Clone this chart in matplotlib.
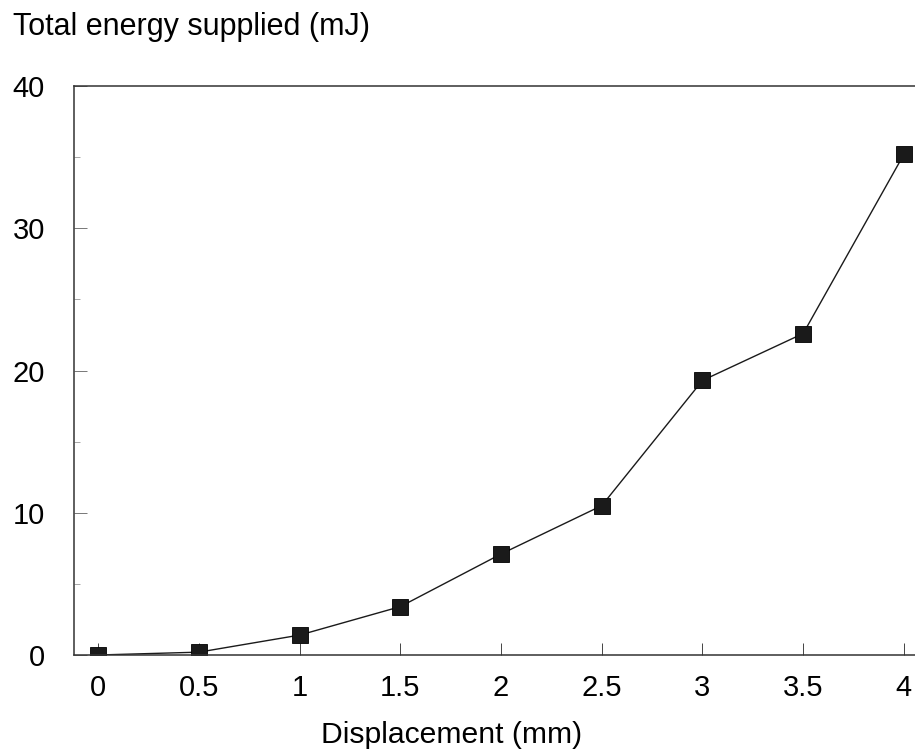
import matplotlib
matplotlib.use("Agg")
import matplotlib.pyplot as plt
from matplotlib.ticker import MultipleLocator

plt.rcParams['font.family'] = ['Liberation Sans', 'DejaVu Sans']

# data
displacement = [0, 0.5, 1, 1.5, 2, 2.5, 3, 3.5, 4]          # mm
energy = [0.0, 0.2, 1.4, 3.4, 7.1, 10.5, 19.3, 22.6, 35.2]  # mJ
x_ticks = [0, 0.5, 1, 1.5, 2, 2.5, 3, 3.5, 4]
x_tick_labels = ["0", "0.5", "1", "1.5", "2", "2.5", "3", "3.5", "4"]
y_ticks = [0, 10, 20, 30, 40]

W, H = 915, 756
fig = plt.figure(figsize=(W / 100, H / 100), dpi=100)
ax = fig.add_axes([74 / W, 1 - 655 / H, (W - 74) / W, (655 - 86) / H])

ax.plot(displacement, energy, color="#1a1a1a", linewidth=1.0,
        marker="s", markersize=11, markerfacecolor="#1a1a1a",
        markeredgecolor="#000000", markeredgewidth=0.6)

ax.set_xlim(-0.12, 4.055)
ax.set_ylim(0, 40)
ax.set_xticks(x_ticks)
ax.set_xticklabels(x_tick_labels)
ax.set_yticks(y_ticks)
ax.yaxis.set_minor_locator(MultipleLocator(5))

ax.tick_params(axis="x", direction="in", length=9, width=0.7, colors="#444444",
               labelsize=21, labelcolor="black", pad=14)
ax.tick_params(axis="y", which="major", direction="in", length=9, width=0.7,
               colors="#777777", labelsize=21, labelcolor="black", pad=21)
ax.tick_params(axis="y", which="minor", direction="in", length=4, width=0.6,
               colors="#999999")

for side in ["left", "bottom", "top"]:
    ax.spines[side].set_color("#333333")
    ax.spines[side].set_linewidth(1.1)
ax.spines["right"].set_visible(False)

fig.text(13 / W, 1 - 35 / H, "Total energy supplied (mJ)", fontsize=22,
         ha="left", va="baseline")
fig.text(452 / W, 1 - 743 / H, "Displacement (mm)", fontsize=21.7,
         ha="center", va="baseline")

fig.savefig("out.png", dpi=100)
